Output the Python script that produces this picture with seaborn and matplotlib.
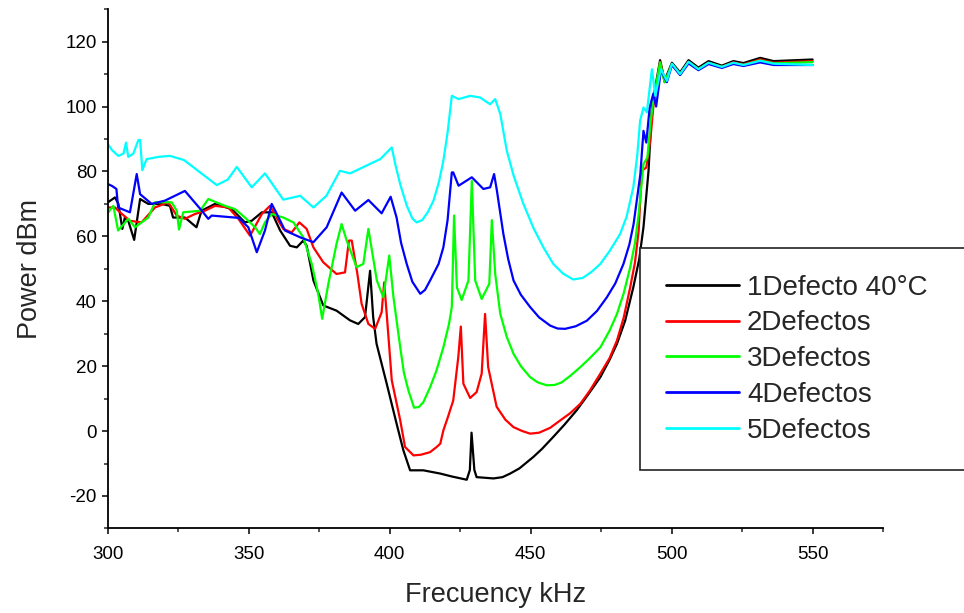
import pandas as pd
import matplotlib
matplotlib.use("Agg")
import matplotlib.pyplot as plt
import seaborn as sns
from matplotlib.ticker import MultipleLocator

# --- data (frequency kHz, power dBm) ---
labels = ["1Defecto 40°C", "2Defectos", "3Defectos", "4Defectos", "5Defectos"]
colors = ["#000000", "#FF0000", "#00FF00", "#0000FF", "#00FFFF"]

freq_1 = [300.0, 302.5, 303.7, 305.1, 306.0, 307.2, 309.3, 311.4, 314.3, 319.0, 322.0, 323.1,
          327.3, 331.4, 333.2, 338.0, 343.9, 348.6, 351.0, 354.6, 358.1, 361.1, 364.6, 367.0,
          369.3, 370.5, 372.9, 376.4, 381.1, 385.9, 388.8, 391.2, 393.0, 394.1, 395.3, 398.9,
          402.4, 404.8, 407.2, 411.9, 417.9, 422.0, 427.3, 428.4, 429.0, 430.0, 430.8, 436.8,
          440.0, 442.7, 446.0, 450.9, 454.0, 458.0, 462.0, 466.3, 470.0, 474.7, 478.0, 480.6,
          483.5, 486.4, 488.5, 490.0, 491.8, 493.0, 495.9, 497.5, 500.1, 503.0, 506.0, 509.5,
          513.1, 517.8, 521.9, 525.5, 531.4, 536.2, 550.0]
power_1 = [70.5, 72.0, 70.0, 62.3, 65.8, 64.8, 58.9, 71.5, 70.0, 70.0, 69.4, 65.8,
           65.8, 62.8, 67.9, 70.0, 68.4, 64.3, 64.8, 67.4, 67.4, 61.8, 57.1, 56.6,
           58.7, 57.1, 46.4, 38.7, 37.1, 34.1, 33.0, 35.1, 49.4, 35.1, 26.9, 14.6,
           2.3, -5.9, -12.1, -12.1, -13.1, -14.0, -15.0, -12.0, -0.5, -12.0, -14.2, -14.6,
           -14.2, -13.1, -11.5, -8.0, -5.5, -1.8, 2.0, 6.4, 10.8, 16.6, 22.0, 26.9,
           34.0, 44.3, 53.0, 62.8, 80.2, 100.0, 114.3, 108.0, 113.5, 110.5, 114.3, 112.0,
           114.0, 112.6, 114.0, 113.4, 115.0, 114.0, 114.5]

freq_2 = [300.1, 302.5, 304.3, 307.8, 311.9, 316.7, 321.4, 324.4, 327.3, 330.9, 334.4, 338.0,
          342.7, 346.3, 350.4, 354.6, 357.5, 360.5, 362.2, 365.2, 367.9, 370.5, 372.9, 376.4,
          381.1, 384.1, 385.5, 386.5, 388.5, 390.0, 392.4, 394.8, 397.1, 398.0, 398.9, 400.7,
          403.7, 405.4, 408.4, 411.0, 414.3, 416.5, 417.9, 419.0, 420.5, 422.5, 424.3, 425.2,
          426.1, 428.5, 430.8, 432.6, 433.8, 434.9, 437.9, 441.0, 443.9, 447.0, 449.8, 453.0,
          456.9, 460.5, 464.0, 467.6, 471.0, 474.7, 478.0, 480.6, 483.0, 485.3, 487.0, 488.3,
          489.4, 491.0, 492.4, 493.5, 495.9, 497.5, 500.1, 503.0, 506.0, 509.5, 513.1, 517.8,
          521.9, 525.5, 531.4, 536.2, 550.0]
power_2 = [68.9, 68.9, 67.4, 64.8, 64.3, 68.9, 70.5, 66.4, 65.4, 66.9, 67.9, 69.4,
           68.9, 65.4, 60.2, 66.9, 69.4, 64.8, 62.3, 61.2, 64.3, 62.3, 56.6, 52.0,
           48.4, 48.9, 58.7, 58.7, 48.4, 39.2, 33.0, 31.5, 36.6, 45.8, 36.1, 15.6,
           3.3, -4.9, -7.5, -7.3, -6.5, -5.0, -3.9, 0.2, 4.0, 9.4, 22.8, 32.2,
           14.6, 10.2, 12.0, 17.7, 36.1, 19.7, 7.5, 3.5, 1.2, 0.0, -0.8, -0.5,
           1.0, 3.3, 5.5, 8.4, 12.5, 17.7, 22.5, 27.9, 35.0, 44.3, 52.0, 61.8,
           80.2, 81.2, 89.4, 100.0, 113.8, 107.5, 113.0, 110.0, 113.8, 111.5, 113.5, 112.3,
           113.6, 113.0, 114.5, 113.5, 114.0]

freq_3 = [300.1, 301.9, 303.6, 307.2, 309.6, 314.3, 316.7, 322.6, 324.4, 325.2, 326.7, 332.7,
          335.6, 341.5, 345.1, 348.6, 352.2, 353.9, 355.7, 358.1, 362.2, 365.8, 369.3, 372.3,
          374.6, 376.0, 378.2, 381.1, 382.9, 384.7, 388.2, 390.6, 392.4, 395.4, 397.7, 399.8,
          401.3, 403.7, 405.0, 406.6, 408.6, 410.3, 411.9, 414.3, 416.5, 419.0, 421.0, 422.0,
          422.8, 423.8, 425.5, 427.9, 429.1, 430.3, 432.6, 435.3, 436.2, 437.4, 439.2, 441.5,
          443.9, 446.5, 449.8, 452.5, 455.7, 458.5, 461.0, 464.0, 467.6, 471.0, 474.7, 478.0,
          480.6, 483.0, 485.3, 487.0, 488.3, 490.0, 491.4, 492.5, 493.5, 495.9, 497.5, 500.1,
          503.0, 506.0, 509.5, 513.1, 517.8, 521.9, 525.5, 531.4, 536.2, 550.0]
power_3 = [67.4, 69.4, 61.8, 65.4, 62.8, 65.8, 70.5, 70.5, 67.9, 62.1, 67.4, 67.9,
           71.5, 69.4, 68.4, 65.8, 62.8, 60.7, 64.3, 66.9, 65.8, 64.3, 59.7, 51.5,
           42.3, 34.6, 45.4, 57.7, 63.8, 58.7, 50.5, 51.5, 62.3, 46.4, 41.2, 54.1,
           41.2, 25.8, 18.0, 12.5, 7.2, 7.4, 8.9, 13.5, 18.5, 25.8, 33.0, 38.2,
           66.4, 44.3, 40.4, 46.4, 77.1, 46.4, 40.7, 45.4, 65.0, 48.4, 36.1, 29.0,
           23.8, 20.0, 16.6, 15.0, 14.1, 14.2, 15.0, 17.0, 19.7, 22.5, 25.8, 31.0,
           36.1, 42.5, 50.5, 58.0, 66.9, 82.3, 84.3, 95.0, 102.0, 113.6, 107.5, 113.0,
           110.0, 113.7, 111.5, 113.4, 112.2, 113.4, 112.8, 114.2, 113.3, 113.7]

freq_4 = [300.0, 301.5, 303.0, 303.6, 307.8, 310.2, 311.4, 315.5, 320.2, 327.3, 333.3, 335.6,
          336.8, 346.3, 349.8, 352.8, 355.7, 358.1, 360.5, 362.8, 368.2, 372.9, 377.6, 382.9,
          387.7, 392.4, 397.1, 400.3, 402.4, 404.0, 406.0, 408.0, 410.8, 412.5, 414.3, 417.3,
          419.0, 420.5, 422.0, 422.5, 424.4, 429.1, 433.2, 435.6, 437.0, 438.0, 440.3, 442.0,
          443.9, 446.5, 449.8, 453.0, 456.9, 459.5, 462.2, 466.0, 469.9, 473.5, 477.0, 480.0,
          482.9, 485.0, 486.5, 488.9, 490.0, 491.0, 492.2, 493.5, 494.5, 496.2, 498.3, 500.1,
          503.0, 506.0, 509.5, 513.1, 517.8, 521.9, 525.5, 531.4, 536.2, 550.0]
power_4 = [76.1, 75.5, 74.6, 68.9, 67.4, 79.2, 73.0, 70.0, 71.0, 74.0, 67.9, 65.4,
           66.4, 65.7, 62.8, 55.1, 61.8, 70.0, 65.9, 61.8, 59.7, 58.2, 62.8, 73.5,
           67.9, 71.2, 67.1, 72.2, 65.8, 58.0, 51.5, 46.0, 42.3, 43.5, 46.4, 51.5,
           56.6, 65.0, 79.7, 79.7, 75.6, 78.2, 74.6, 75.1, 79.2, 74.1, 60.7, 53.0,
           46.4, 42.0, 38.2, 35.0, 32.5, 31.6, 31.5, 32.3, 34.0, 37.0, 41.2, 45.5,
           51.5, 57.5, 63.8, 79.2, 92.5, 88.9, 99.7, 104.0, 100.0, 111.2, 107.5, 112.8,
           109.7, 113.3, 111.2, 113.1, 111.9, 113.1, 112.5, 113.6, 112.8, 112.8]

freq_5 = [300.0, 301.5, 303.7, 305.5, 306.4, 307.2, 309.0, 310.8, 311.4, 312.2, 313.7, 318.0,
          322.0, 327.0, 333.0, 338.6, 342.5, 345.7, 351.0, 355.7, 362.2, 368.2, 372.9, 377.5,
          382.3, 385.9, 391.0, 396.6, 400.7, 402.0, 403.7, 406.0, 408.0, 409.5, 411.5, 413.5,
          415.5, 417.5, 419.0, 420.5, 422.0, 424.4, 428.5, 432.0, 435.6, 437.4, 439.2, 441.5,
          444.0, 447.4, 451.0, 454.5, 458.0, 461.5, 465.1, 468.5, 471.5, 474.7, 478.0, 481.7,
          484.0, 486.4, 487.8, 488.8, 490.0, 491.2, 493.0, 494.2, 496.2, 498.3, 500.1, 503.0,
          506.0, 509.5, 513.1, 517.8, 521.9, 525.5, 531.4, 536.2, 550.0]
power_5 = [88.4, 86.5, 84.8, 85.5, 88.9, 84.5, 85.5, 89.7, 89.7, 80.4, 83.8, 84.5,
           84.8, 83.5, 79.5, 75.8, 77.5, 81.4, 75.1, 79.4, 71.3, 72.5, 68.9, 72.5,
           80.2, 79.4, 81.5, 83.8, 87.4, 82.0, 76.0, 69.5, 65.5, 64.3, 65.0, 67.5,
           71.0, 77.0, 83.3, 92.0, 103.3, 102.3, 103.3, 102.8, 100.7, 102.3, 97.7, 86.4,
           78.5, 70.0, 62.5, 56.6, 51.5, 48.5, 46.7, 47.2, 49.0, 51.5, 55.5, 60.7,
           66.0, 75.1, 85.0, 95.6, 99.7, 98.2, 111.5, 103.3, 111.5, 107.9, 113.2, 110.0,
           113.8, 111.5, 113.5, 112.2, 113.5, 112.8, 114.1, 113.2, 112.8]

freqs = [freq_1, freq_2, freq_3, freq_4, freq_5]
powers = [power_1, power_2, power_3, power_4, power_5]

df = pd.concat(
    [pd.DataFrame({"freq": f, "power": p, "series": lab}) for f, p, lab in zip(freqs, powers, labels)],
    ignore_index=True,
)

sns.set_theme(style="ticks")
plt.rcParams["font.family"] = ["Liberation Sans", "DejaVu Sans"]
plt.rcParams["axes.unicode_minus"] = False

fig = plt.figure(figsize=(9.64, 6.13), dpi=100)
ax = fig.add_axes([0.112, 0.138, 0.804, 0.847])

sns.lineplot(data=df, x="freq", y="power", hue="series", hue_order=labels,
             palette=colors, estimator=None, sort=False, linewidth=1.6, ax=ax)

ax.set_xlim(300, 575)
ax.set_ylim(-30, 130)
ax.xaxis.set_major_locator(MultipleLocator(50))
ax.xaxis.set_minor_locator(MultipleLocator(25))
ax.yaxis.set_minor_locator(MultipleLocator(10))
ax.set_yticks([-20, 0, 20, 40, 60, 80, 100, 120])
ax.tick_params(which="major", direction="out", length=4.5, width=1.1, labelsize=13.5, colors="black")
ax.tick_params(which="minor", direction="out", length=3, width=1.1)
ax.tick_params(axis="x", pad=8)

sns.despine(ax=ax)
for side in ["left", "bottom"]:
    ax.spines[side].set_linewidth(1.3)
    ax.spines[side].set_color("black")

ax.set_xlabel("Frecuency kHz", fontsize=19.5, labelpad=14)
ax.set_ylabel("Power dBm", fontsize=19.5, labelpad=16)

# legend box runs off the right edge like the original
handles, labs = ax.get_legend_handles_labels()
ax.get_legend().remove()
leg = ax.legend(handles, labs, loc="upper left", bbox_to_anchor=(0.664, 0.0, 0.5, 0.595),
                bbox_transform=fig.transFigure, mode="expand", borderaxespad=0,
                fontsize=20, frameon=True, fancybox=False, edgecolor="#222222",
                framealpha=1, handlelength=2.6, handletextpad=0.3, labelspacing=0.35,
                borderpad=0.95)
leg.get_frame().set_linewidth(1.2)
for line in leg.get_lines():
    line.set_linewidth(2)

fig.savefig("out.png", dpi=100)
